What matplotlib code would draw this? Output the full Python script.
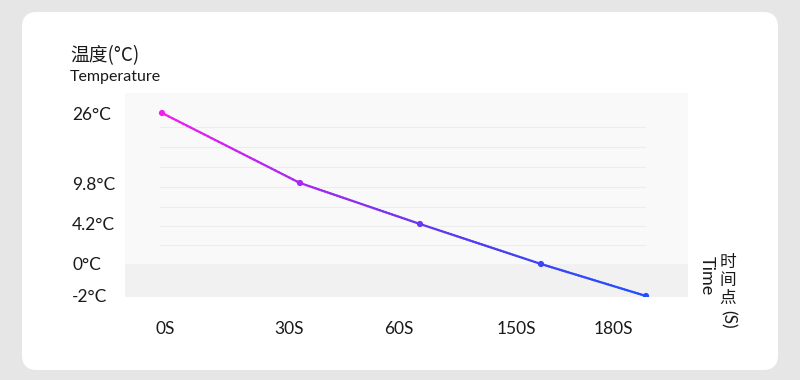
import matplotlib
matplotlib.use("Agg")
import numpy as np
import matplotlib.pyplot as plt
from matplotlib.collections import LineCollection
from matplotlib.colors import LinearSegmentedColormap
from matplotlib.patches import FancyBboxPatch
from matplotlib.transforms import ScaledTranslation

# data
times = [0, 30, 60, 150, 180]
temps = [26, 9.8, 4.2, 0, -2]
x_labels = ["0S", "30S", "60S", "150S", "180S"]
y_ticks = [-2, 0, 4.2, 9.8, 26]
y_labels = ["-2°C", "0°C", "4.2°C", "9.8°C", "26°C"]

# layout: where each tick sits inside the axes box (pixels from left / bottom)
W, H = 800, 380
AX_L, AX_R, AX_T, AX_B = 125, 688, 93, 297
x_px = [37, 175, 295, 416, 521]
y_px = [1, 33, 73, 114, 184]
x_label_shift = [3, -11, -21, -25, -33]
grid_px = [170, 150, 130, 110, 90, 71, 52]

LATIN = ["Lato", "Noto Sans CJK SC"]
CJK = ["Noto Sans CJK SC", "DejaVu Sans"]
TXT = "#1a1a1a"


def piecewise(src, dst):
    src = np.asarray(src, float)
    dst = np.asarray(dst, float)
    lo = (dst[1] - dst[0]) / (src[1] - src[0])
    hi = (dst[-1] - dst[-2]) / (src[-1] - src[-2])

    def f(v):
        v = np.asarray(v, float)
        out = np.interp(v, src, dst)
        out = np.where(v < src[0], dst[0] + (v - src[0]) * lo, out)
        out = np.where(v > src[-1], dst[-1] + (v - src[-1]) * hi, out)
        return out

    return f


fig = plt.figure(figsize=(W / 100, H / 100), dpi=100, facecolor="#e6e6e6")
card = FancyBboxPatch((0.22, 0.10), 7.56, 3.58, boxstyle="round,pad=0,rounding_size=0.15",
                      transform=fig.dpi_scale_trans, facecolor="white", edgecolor="none", zorder=-5)
fig.patches.append(card)

ax = fig.add_axes([AX_L / W, (H - AX_B) / H, (AX_R - AX_L) / W, (AX_B - AX_T) / H])
ax.set_facecolor("#f9f9f9")
for s in ax.spines.values():
    s.set_visible(False)

fx, ix = piecewise(times, x_px), piecewise(x_px, times)
fy, iy = piecewise(y_ticks, y_px), piecewise(y_px, y_ticks)
ax.set_xscale("function", functions=(fx, ix))
ax.set_yscale("function", functions=(fy, iy))
ax.set_xlim(float(ix(0)), float(ix(AX_R - AX_L)))
ax.set_ylim(float(iy(0)), float(iy(AX_B - AX_T)))

# lower band below zero and faint grid
ax.axhspan(float(iy(0)), 0, color="#f1f1f1", zorder=0, lw=0)
h = AX_B - AX_T
for g in grid_px:
    ax.plot([0.062, 0.924], [g / h, g / h], transform=ax.transAxes, color="#ededed", lw=0.8, zorder=1)

# gradient line
cmap = LinearSegmentedColormap.from_list("g", ["#f21ef2", "#9a2cf0", "#4b3ef2", "#2350ff"])
segs, cols = [], []
tot = x_px[-1] - x_px[0]
for i in range(len(times) - 1):
    tt = np.linspace(times[i], times[i + 1], 40)
    yy = np.linspace(temps[i], temps[i + 1], 40)
    px = fx(tt)
    for j in range(len(tt) - 1):
        segs.append([(tt[j], yy[j]), (tt[j + 1], yy[j + 1])])
        cols.append(cmap(((px[j] + px[j + 1]) / 2 - x_px[0]) / tot))
ax.add_collection(LineCollection(segs, colors=cols, linewidths=1.6, capstyle="round", zorder=3))
pt_cols = [cmap((fx(t) - x_px[0]) / tot) for t in times]
ax.scatter(times, temps, s=20, c=pt_cols, zorder=4, linewidths=0)

# ticks
ax.set_xticks(times, x_labels)
ax.set_yticks(y_ticks, y_labels)
ax.tick_params(axis="both", length=0, colors=TXT, labelsize=12.5)
ax.tick_params(axis="x", pad=17)
ax.tick_params(axis="y", pad=38)
for lab in ax.get_yticklabels():
    lab.set_horizontalalignment("left")
    lab.set_fontfamily(LATIN)
for lab, dx in zip(ax.get_xticklabels(), x_label_shift):
    lab.set_fontfamily(LATIN)
    lab.set_transform(lab.get_transform() + ScaledTranslation(dx / 100, 0, fig.dpi_scale_trans))

# axis titles
fig.text(70 / W, 1 - 61 / H, "温度(°C)", family=CJK, fontsize=13.5, color=TXT, va="baseline")
fig.text(70 / W, 1 - 81 / H, "Temperature", family=LATIN, fontsize=11.5, color=TXT, va="baseline")
fig.text(728 / W, 1 - 254 / H, "时\n间\n点", family=CJK, fontsize=12, color=TXT,
         ha="center", va="top", linespacing=1.08)
fig.text(728 / W, 1 - 310 / H, "(S)", family=LATIN, fontsize=12.5, color=TXT,
         ha="center", va="top", rotation=-90)
fig.text(707 / W, 1 - 256 / H, "Time", family=LATIN, fontsize=13, color=TXT,
         ha="center", va="top", rotation=-90)

fig.savefig("out.png", dpi=100, facecolor=fig.get_facecolor())
